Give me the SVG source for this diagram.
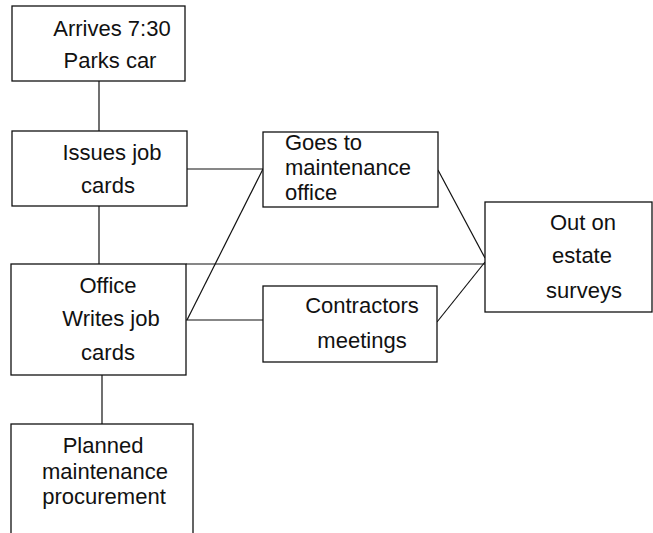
<svg xmlns="http://www.w3.org/2000/svg" width="653" height="533" viewBox="0 0 653 533">
<style>
.box{fill:#fff;stroke:#111;stroke-width:1.3}
.ln{fill:none;stroke:#111;stroke-width:1.2}
text{font-family:"Liberation Sans",Arial,sans-serif;font-size:22px;fill:#111}
.c{text-anchor:middle}
</style>
<rect width="653" height="533" fill="#fff"/>
<g id="connectors">
<path class="ln" d="M99 81V131"/>
<path class="ln" d="M99 206V264"/>
<path class="ln" d="M102 375V424"/>
<path class="ln" d="M187 169H263"/>
<path class="ln" d="M263 169L187 320"/>
<path class="ln" d="M186 320H263"/>
<path class="ln" d="M186 264H485"/>
<path class="ln" d="M438 170L485 258"/>
<path class="ln" d="M437 322L485 262"/>
</g>
<g id="arrives">
<rect class="box" x="12" y="6" width="173" height="75"/>
<text class="c" x="112" y="36">Arrives 7:30</text>
<text class="c" x="110" y="68">Parks car</text>
</g>
<g id="issues">
<rect class="box" x="12" y="131" width="175" height="75"/>
<text class="c" x="112" y="160">Issues job</text>
<text class="c" x="108" y="193">cards</text>
</g>
<g id="goes">
<rect class="box" x="263" y="132" width="175" height="75"/>
<text x="285" y="150">Goes to</text>
<text x="285" y="175">maintenance</text>
<text x="285" y="200">office</text>
</g>
<g id="office">
<rect class="box" x="11" y="264" width="175" height="111"/>
<text class="c" x="108" y="293">Office</text>
<text class="c" x="111" y="326">Writes job</text>
<text class="c" x="108" y="360">cards</text>
</g>
<g id="contractors">
<rect class="box" x="263" y="286" width="174" height="76"/>
<text class="c" x="362" y="313">Contractors</text>
<text class="c" x="362" y="348">meetings</text>
</g>
<g id="outon">
<rect class="box" x="485" y="202" width="167" height="110"/>
<text class="c" x="583" y="230">Out on</text>
<text class="c" x="582" y="263">estate</text>
<text class="c" x="584" y="298">surveys</text>
</g>
<g id="planned">
<rect class="box" x="11" y="424" width="182" height="130"/>
<text class="c" x="103" y="453">Planned</text>
<text class="c" x="105" y="479">maintenance</text>
<text class="c" x="104" y="504">procurement</text>
</g>
</svg>
